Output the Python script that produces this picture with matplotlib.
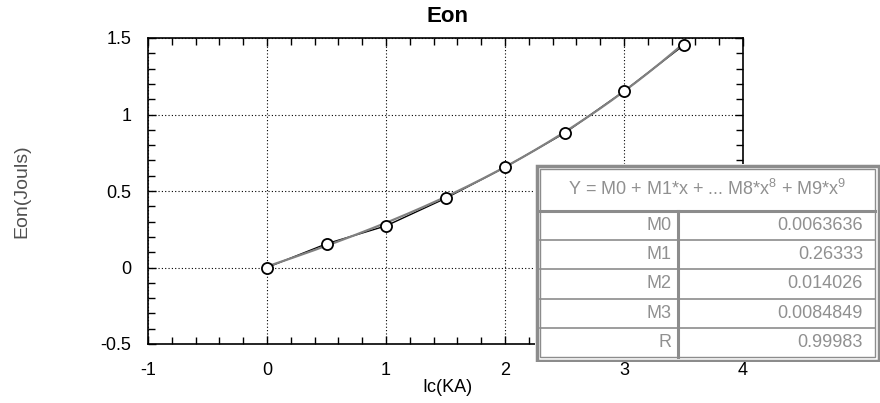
import numpy as np
import matplotlib
matplotlib.use("Agg")
import matplotlib.pyplot as plt
from matplotlib.ticker import MultipleLocator
from matplotlib.patches import Rectangle

plt.rcParams['font.family'] = ['Liberation Sans', 'DejaVu Sans']
plt.rcParams['mathtext.fontset'] = 'custom'
plt.rcParams['mathtext.rm'] = 'Liberation Sans'
plt.rcParams['mathtext.it'] = 'Liberation Sans'

# measured points
ic = [0, 0.5, 1, 1.5, 2, 2.5, 3, 3.5]
eon = [0.0, 0.155, 0.272, 0.452, 0.655, 0.878, 1.152, 1.452]

# axis ticks
x_ticks = [-1, 0, 1, 2, 3, 4]
y_ticks = [-0.5, 0, 0.5, 1, 1.5]
y_tick_labels = ["-0.5", "0", "0.5", "1", "1.5"]

# polynomial fit coefficients
coef_names = ["M0", "M1", "M2", "M3", "R"]
coef_values = [0.0063636, 0.26333, 0.014026, 0.0084849, 0.99983]
coef_labels = ["0.0063636", "0.26333", "0.014026", "0.0084849", "0.99983"]

W, H = 880, 403
fig = plt.figure(figsize=(W / 100, H / 100), dpi=100)
ax = fig.add_axes([148 / W, (H - 344) / H, (743 - 148) / W, (344 - 38) / H])

xf = np.linspace(ic[0], ic[-1], 200)
yf = sum(c * xf ** i for i, c in enumerate(coef_values[:4]))

ax.plot(ic, eon, color='black', lw=1.0, zorder=3)
ax.plot(xf, yf, color='#808080', lw=1.6, zorder=4)
ax.plot(ic, eon, ls='none', marker='o', ms=8, mfc='white', mec='black', mew=1.3, zorder=5)

ax.set_xlim(x_ticks[0], x_ticks[-1])
ax.set_ylim(y_ticks[0], y_ticks[-1])
ax.set_xticks(x_ticks)
ax.set_xticklabels([str(t) for t in x_ticks])
ax.set_yticks(y_ticks)
ax.set_yticklabels(y_tick_labels)
ax.xaxis.set_minor_locator(MultipleLocator(0.2))
ax.yaxis.set_minor_locator(MultipleLocator(0.1))
ax.tick_params(which='both', direction='in', top=True, right=True, width=1.0, labelsize=13)
ax.tick_params(which='major', length=6)
ax.tick_params(which='minor', length=5)
ax.tick_params(axis='x', pad=13)
ax.tick_params(axis='y', pad=12)
ax.grid(True, which='major', color='black', ls=(0, (1, 2)), lw=0.8)
for s in ax.spines.values():
    s.set_linewidth(1.2)

fig.text(447 / W, 1 - 16 / H, "Eon", ha='center', va='center', fontsize=16, fontweight='bold')
fig.text(447 / W, 1 - 388 / H, "Ic(KA)", ha='center', va='center', fontsize=13)
fig.text(22 / W, 1 - 191 / H, "Eon(Jouls)", rotation=90, ha='center', va='center',
         fontsize=14, color='#505050')

# coefficient table in pixel coordinates
tx0, ty0, tw, th = 535, 164, 345, 198
tab = fig.add_axes([tx0 / W, (H - ty0 - th) / H, tw / W, th / H])
tab.set_xlim(0, tw)
tab.set_ylim(th, 0)
tab.axis('off')
tab.add_patch(Rectangle((0, 0), tw, th, fc='white', ec='none', zorder=1))
grey = '#8c8c8c'
tab.add_patch(Rectangle((1.5, 1.5), tw - 3, th - 3, fill=False, ec=grey, lw=2.5, zorder=2))
tab.add_patch(Rectangle((5, 5), tw - 10, th - 10, fill=False, ec=grey, lw=1.0, zorder=2))

head_bottom = 47
row_h = (th - 5 - head_bottom) / len(coef_names)
col_x = 143
tab.plot([5, tw - 5], [head_bottom, head_bottom], color=grey, lw=2.2, zorder=2)
tab.plot([col_x, col_x], [head_bottom, th - 5], color=grey, lw=2.2, zorder=2)
for i in range(1, len(coef_names)):
    yy = head_bottom + i * row_h
    tab.plot([5, tw - 5], [yy, yy], color=grey, lw=1.2, zorder=2)

txt_c = '#909090'
tab.text(tw / 2, 25, r"Y = M0 + M1*x + ... M8*x$^8$ + M9*x$^9$", ha='center', va='center',
         fontsize=13, color=txt_c)
for i, (n, v) in enumerate(zip(coef_names, coef_labels)):
    yy = head_bottom + (i + 0.5) * row_h
    tab.text(col_x - 6, yy, n, ha='right', va='center', fontsize=13, color=txt_c)
    tab.text(tw - 17, yy, v, ha='right', va='center', fontsize=13, color=txt_c)

fig.savefig("out.png", dpi=100)
